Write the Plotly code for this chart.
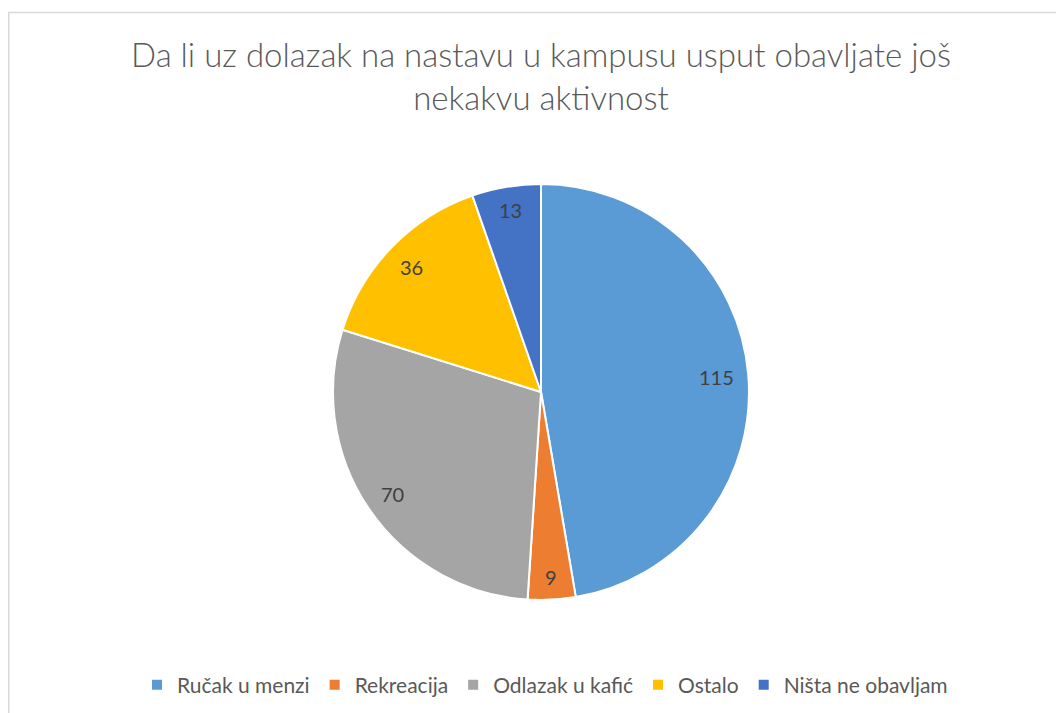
import numpy as np
import plotly.graph_objects as go

# Data
labels = ["Ručak u menzi", "Rekreacija", "Odlazak u kafić", "Ostalo", "Ništa ne obavljam"]
values = [115, 9, 70, 36, 13]
colors = ["#5B9BD5", "#ED7D31", "#A5A5A5", "#FFC000", "#4472C4"]
title = "Da li uz dolazak na nastavu u kampusu usput obavljate još<br>nekakvu aktivnost"

# Canvas (page body adds an 8px margin, so positions are given in page pixels minus 8)
OFF = 8
W, H = 1064 - OFF, 713 - OFF
cx, cy, R = 541 - OFF, 392 - OFF, 208

fig = go.Figure()
fig.add_trace(go.Pie(labels=labels, values=values, sort=False,
                     direction="clockwise", rotation=0,
                     marker=dict(colors=colors, line=dict(color="white", width=2)),
                     textinfo="none", hoverinfo="label+value",
                     domain=dict(x=[(cx - R) / W, (cx + R) / W],
                                 y=[1 - (cy + R) / H, 1 - (cy - R) / H])))

# Value labels placed at the inside end of each slice
vals = np.array(values, dtype=float)
mid = (np.cumsum(vals) - vals / 2) / vals.sum() * 2 * np.pi
annotations = []
for v, a in zip(values, mid):
    ux, uy = np.sin(a), -np.cos(a)
    w, h = len(str(v)) * 11.5, 16
    r = R - 14 - (abs(ux) * w / 2 + abs(uy) * h / 2)
    annotations.append(dict(x=(cx + r * ux) / W, y=1 - (cy + r * uy) / H,
                            xref="paper", yref="paper", text=str(v),
                            showarrow=False, xanchor="center", yanchor="middle",
                            font=dict(family="Lato", size=20, color="#404040")))

fig.update_layout(width=W, height=H,
                  margin=dict(l=0, r=0, t=0, b=0),
                  paper_bgcolor="white", plot_bgcolor="white",
                  title=dict(text=title, x=(541 - OFF) / W, xanchor="center",
                             y=1 - 59 / H, yanchor="top", yref="container",
                             font=dict(family="Lato", size=33, weight=300, color="#595959")),
                  legend=dict(orientation="h", x=(545 - OFF) / W, xanchor="center",
                              y=1 - (685 - OFF) / H, yanchor="middle",
                              font=dict(family="Lato", size=21, color="#595959")),
                  annotations=annotations,
                  shapes=[dict(type="rect", xref="paper", yref="paper",
                               x0=0.75 / W, x1=1.05, y0=-0.05, y1=1 - 4.5 / H,
                               line=dict(color="#D9D9D9", width=1.5))])

fig.write_html("out.html")
